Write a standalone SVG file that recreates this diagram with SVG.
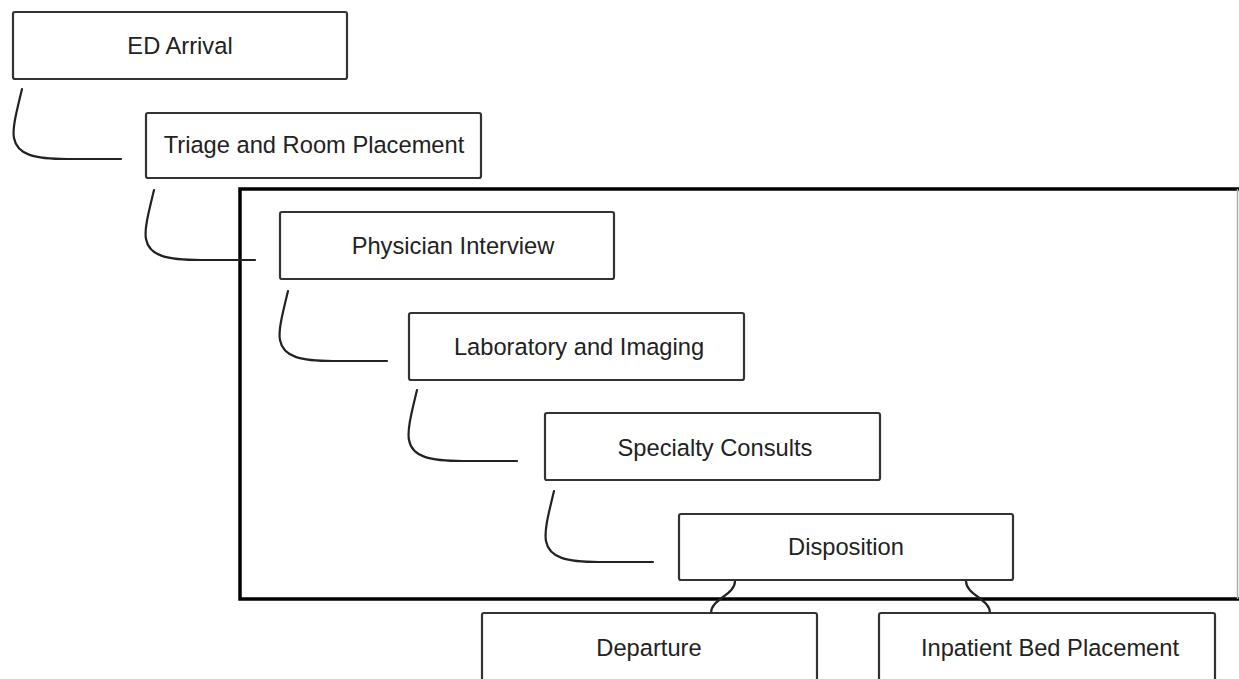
<svg xmlns="http://www.w3.org/2000/svg" width="1239" height="679" viewBox="0 0 1239 679">
<style>
.box{fill:#fff;stroke:#333;stroke-width:2.2}
.lbl{font-family:"Liberation Sans",Arial,sans-serif;font-size:23.7px;fill:#222;text-anchor:middle}
.con{fill:none;stroke:#222;stroke-width:2.2;stroke-linecap:round}
</style>
<rect width="1239" height="679" fill="#fff"/>
<g id="container">
<path d="M1239,189 L240,189 L240,599 L1239,599" fill="none" stroke="#000" stroke-width="3.5"/>
<line x1="1237.5" y1="189" x2="1237.5" y2="599" stroke="#aaa" stroke-width="1.5"/>
</g>
<g id="connectors">
<path class="con" d="M22,89 c-5,21 -10,39 -8,49 c3,17 21,21 53,21 l54,0"/>
<path class="con" d="M154,190 c-5,21 -10,39 -8,49 c3,17 21,21 55,21 l54,0"/>
<path class="con" d="M288,291 c-5,21 -10,39 -8,49 c3,17 21,21 53,21 l54,0"/>
<path class="con" d="M417,390 c-5,21 -10,39 -8,50 c3,17 21,21 54,21 l54,0"/>
<path class="con" d="M554,491 c-5,21 -10,39 -8,50 c3,17 21,21 53,21 l54,0"/>
<path class="con" d="M735,581 C735,595 711,599 711,613"/>
<path class="con" d="M966,581 C966,595 990,599 990,613"/>
</g>
<g id="n1"><rect class="box" x="13" y="12" width="334" height="67" rx="2"/><text class="lbl" x="180" y="53.5">ED Arrival</text></g>
<g id="n2"><rect class="box" x="146" y="113" width="335" height="65" rx="2"/><text class="lbl" x="314" y="153">Triage and Room Placement</text></g>
<g id="n3"><rect class="box" x="280" y="212" width="334" height="67" rx="2"/><text class="lbl" x="453" y="254">Physician Interview</text></g>
<g id="n4"><rect class="box" x="409" y="313" width="335" height="67" rx="2"/><text class="lbl" x="579" y="355">Laboratory and Imaging</text></g>
<g id="n5"><rect class="box" x="545" y="413" width="335" height="67" rx="2"/><text class="lbl" x="715" y="456">Specialty Consults</text></g>
<g id="n6"><rect class="box" x="679" y="514" width="334" height="66" rx="2"/><text class="lbl" x="846" y="555">Disposition</text></g>
<g id="n7"><rect class="box" x="482" y="613" width="335" height="80" rx="2"/><text class="lbl" x="649" y="656">Departure</text></g>
<g id="n8"><rect class="box" x="879" y="613" width="336" height="80" rx="2"/><text class="lbl" x="1050" y="656">Inpatient Bed Placement</text></g>
</svg>
